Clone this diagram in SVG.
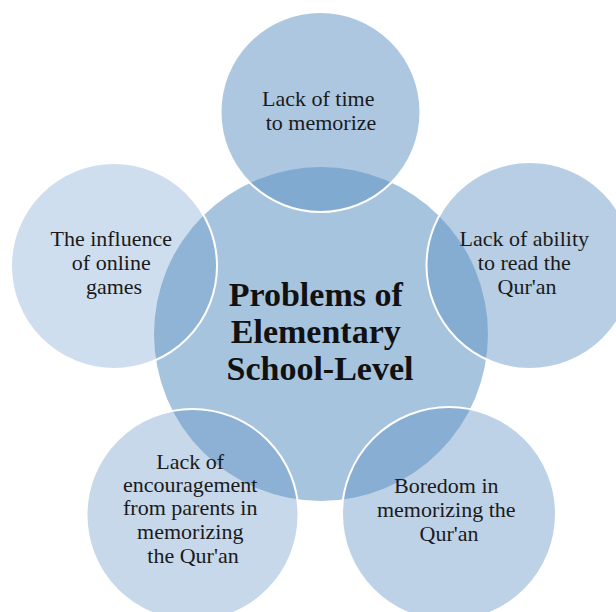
<svg xmlns="http://www.w3.org/2000/svg" width="616" height="612" viewBox="0 0 616 612">
  <style>
    .hub { fill: #a7c4de; }
    .sat { fill: #5b8fc3; stroke: #ffffff; stroke-width: 2; }
    text { font-family: "Liberation Serif", "Times New Roman", serif; text-anchor: middle; }
    .lbl { font-size: 22px; fill: #1a1a1a; }
    .title { font-size: 34px; font-weight: bold; fill: #111111; }
  </style>
  <rect width="616" height="612" fill="#ffffff"/>

  <!-- central hub -->
  <g id="hub">
    <circle class="hub" cx="321" cy="334" r="167"/>
    <text class="title" font-family="Liberation Serif, serif">
      <tspan x="320" y="306">Problems of</tspan>
      <tspan x="320" y="343">Elementary</tspan>
      <tspan x="320" y="380">School-Level</tspan>
    </text>
  </g>

  <!-- satellites, clockwise from top, with fading opacity -->
  <g id="node-time">
    <circle class="sat" cx="320.5" cy="112" r="100" fill-opacity="0.5"/>
    <text class="lbl" font-family="Liberation Serif, serif">
      <tspan x="321" y="106">Lack of time</tspan>
      <tspan x="321" y="130">to memorize</tspan>
    </text>
  </g>

  <g id="node-reading">
    <circle class="sat" cx="530" cy="265.5" r="103.5" fill-opacity="0.44"/>
    <text class="lbl" font-family="Liberation Serif, serif">
      <tspan x="527" y="246">Lack of ability</tspan>
      <tspan x="527" y="270">to read the</tspan>
      <tspan x="527" y="294">Qur'an</tspan>
    </text>
  </g>

  <g id="node-boredom">
    <circle class="sat" cx="449" cy="514" r="107" fill-opacity="0.4"/>
    <text class="lbl" font-family="Liberation Serif, serif">
      <tspan x="449" y="493">Boredom in</tspan>
      <tspan x="449" y="517">memorizing the</tspan>
      <tspan x="449" y="541">Qur'an</tspan>
    </text>
  </g>

  <g id="node-parents">
    <circle class="sat" cx="192.5" cy="515" r="106" fill-opacity="0.35"/>
    <text class="lbl" font-family="Liberation Serif, serif">
      <tspan x="193" y="469">Lack of</tspan>
      <tspan x="193" y="492">encouragement</tspan>
      <tspan x="193" y="515">from parents in</tspan>
      <tspan x="193" y="539">memorizing</tspan>
      <tspan x="193" y="563">the Qur'an</tspan>
    </text>
  </g>

  <g id="node-games">
    <circle class="sat" cx="114" cy="266" r="103" fill-opacity="0.29"/>
    <text class="lbl" font-family="Liberation Serif, serif">
      <tspan x="114" y="246">The influence</tspan>
      <tspan x="114" y="270">of online</tspan>
      <tspan x="114" y="294">games</tspan>
    </text>
  </g>

  <!-- no connectors: circles overlap the hub directly -->
  <g id="connectors"/>
</svg>
